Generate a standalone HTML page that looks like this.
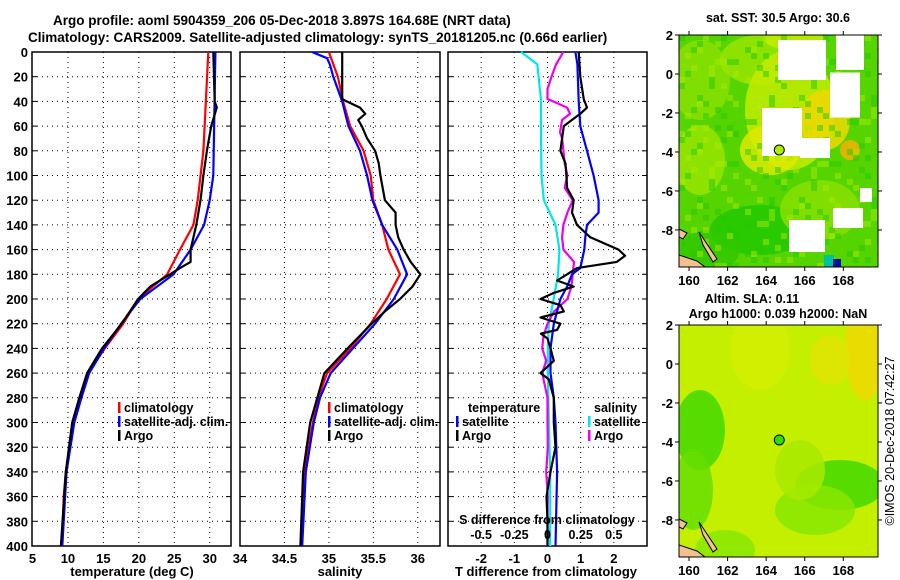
<!DOCTYPE html>
<html><head><meta charset="utf-8"><style>
body{margin:0;background:#fff;}
svg{display:block;font-family:"Liberation Sans",sans-serif;font-weight:bold;}
</style></head><body>
<svg id="fig" width="900" height="580" xmlns="http://www.w3.org/2000/svg">
<g font-size="13.5">
<text x="53" y="25">Argo profile: aoml 5904359_206 05-Dec-2018 3.897S 164.68E (NRT data)</text>
<text x="28" y="42">Climatology: CARS2009. Satellite-adjusted climatology: synTS_20181205.nc (0.66d earlier)</text>
</g>
<g id="panels"></g>
<g id="maps"></g>
</svg>
<script>
// ---------- data ----------
const depthTicks=[0,20,40,60,80,100,120,140,160,180,200,220,240,260,280,300,320,340,360,380,400];
const tTicks=[5,10,15,20,25,30];
const sTicks=[34,34.5,35,35.5,36];
const sTickLabels=["34","34.5","35","35.5","36"];
const dTicks=[-2,-1,0,1,2];
const dsTicks=[-0.5,-0.25,0,0.25,0.5];
const dsTickLabels=["-0.5","-0.25","0","0.25","0.5"];

const tClimD=[0,80,120,140,160,180,200,220,240,260,280,300,320,340,360,380,400];
const tClimV=[29.8,29.1,28.3,27.7,25.8,24.0,19.9,17.8,15.2,12.8,11.7,10.8,10.3,9.7,9.4,9.3,9.1];
const tSatD=[0,100,120,140,160,180,200,220,240,260,280,300,340,400];
const tSatV=[30.8,30.5,30.0,29.2,27.3,24.9,20.2,17.5,15.1,13.0,11.9,10.9,9.8,9.2];
const tArgoD=[0,40,45,60,80,100,120,140,160,170,175,180,190,200,220,240,260,280,300,340,400];
const tArgoV=[30.5,30.7,31.0,30.2,29.6,29.1,28.7,28.1,27.3,27.3,25.8,24.4,21.6,19.9,17.6,14.8,12.7,11.6,10.6,9.7,9.0];

const sClimD=[0,20,40,60,80,100,120,140,160,180,200,220,240,260,280,300,320,340,360,380,400];
const sClimV=[35.0,35.1,35.16,35.24,35.39,35.47,35.5,35.6,35.67,35.8,35.65,35.47,35.24,34.98,34.88,34.82,34.77,34.73,34.71,34.7,34.69];
const sSatD=[0,5,10,20,40,60,80,100,120,140,160,180,200,220,240,260,280,300,340,400];
const sSatV=[34.81,34.98,35.01,35.05,35.15,35.22,35.35,35.43,35.49,35.6,35.77,35.88,35.73,35.52,35.27,35.02,34.9,34.83,34.74,34.7];
const sArgoD=[0,38,40,45,50,55,60,70,80,90,100,120,130,140,150,160,170,180,190,200,210,220,240,260,300,340,400];
const sArgoV=[35.15,35.15,35.2,35.35,35.41,35.33,35.37,35.43,35.52,35.56,35.58,35.63,35.75,35.75,35.78,35.84,35.92,36.03,35.94,35.8,35.63,35.48,35.21,34.95,34.79,34.71,34.68];

const dtSatD=[0,10,40,60,80,100,120,130,140,150,160,175,180,190,200,220,240,260,280,300,340,400];
const dtSatV=[0.84,0.9,0.94,0.99,1.19,1.39,1.54,1.54,1.19,1.14,1.11,0.99,0.74,0.59,0.39,0.19,0.09,0.09,0.19,0.24,0.29,0.24];
const dtArgoD=[0,20,38,45,50,55,60,70,80,90,100,110,120,130,140,150,160,165,170,175,180,185,190,195,200,205,210,215,220,225,228,232,240,250,260,265,280,300,320,340,360,380,400];
const dtArgoV=[0.94,0.99,1.09,1.19,0.99,0.74,0.49,0.44,0.39,0.54,0.57,0.59,0.79,0.74,0.89,1.29,2.14,2.34,2.09,0.89,0.59,0.29,0.79,0.2,-0.21,0.39,0.49,-0.21,0.39,0.29,-0.2,0.0,0.09,0.19,-0.21,0.04,0.19,0.19,0.24,0.09,-0.03,0.0,0.0];
const dsSatD=[0,10,38,60,100,120,140,160,180,200,220,240,260,300,340,400];
const dsSatV=[-0.2,-0.077,-0.05,-0.05,-0.045,-0.028,0.06,0.09,0.08,0.047,0.01,0.002,0.002,0.01,0.02,0.02];
const dsArgoD=[0,10,20,30,38,45,50,55,65,70,80,90,100,110,120,130,140,150,160,170,180,190,200,210,220,230,240,250,260,280,300,320,340,360,380,400];
const dsArgoV=[0.12,0.065,0.03,0.0,0.0,0.148,0.17,0.11,0.094,0.11,0.12,0.13,0.15,0.13,0.19,0.15,0.12,0.11,0.12,0.2,0.19,0.18,0.15,0.05,0.0,-0.03,-0.04,-0.01,-0.04,0.0,0.0,0.002,-0.01,0.002,0.0,0.0];

const latTicks=[2,0,-2,-4,-6,-8];
const lonTicks=[160,162,164,166,168];
const argoLon=164.68, argoLat=-3.897;

// ---------- helpers ----------
const NS="http://www.w3.org/2000/svg";
function mk(parent,tag,attrs,text){const e=document.createElementNS(NS,tag);for(const k in attrs)e.setAttribute(k,attrs[k]);if(text!==undefined)e.textContent=text;parent.appendChild(e);return e;}
const top0=52,bot0=546;
const yD=d=>top0+(d/400)*(bot0-top0);
function lin(d0,d1,r0,r1){return v=>r0+(v-d0)/(d1-d0)*(r1-r0);}
const P1={x0:32,x1:231,sx:lin(5,33,32.5,231)};
const P2={x0:240,x1:440,sx:lin(34,36.25,240,440)};
const P3={x0:448,x1:647,sx:lin(-3,3,448,647)};
const dsx=v=>P3.sx(v*4);
const panels=document.getElementById('panels');

function frame(P,name,xt,xlab,xfn){
  const g=mk(panels,'g',{});
  
  
  depthTicks.forEach(d=>{if(d>0&&d<400){const l=mk(g,'line',{x1:P.x0,x2:P.x1,y1:yD(d),y2:yD(d),stroke:'#000','stroke-width':1,'stroke-dasharray':'1 4'});
    
    mk(g,'line',{x1:P.x0,x2:P.x0+5,y1:yD(d),y2:yD(d),stroke:'#000'});mk(g,'line',{x1:P.x1-5,x2:P.x1,y1:yD(d),y2:yD(d),stroke:'#000'});}});
  xt.forEach((v,i)=>{const x=xfn(v);
    if(x>P.x0+2&&x<P.x1-2){const l=mk(g,'line',{x1:x,x2:x,y1:top0,y2:bot0,stroke:'#000','stroke-dasharray':'1 4'});}
    const t=mk(g,'text',{x:x,y:563,'font-size':13,'text-anchor':'middle'},xlab[i]);
    });
  const r=mk(g,'rect',{x:P.x0,y:top0,width:P.x1-P.x0,height:bot0-top0,fill:'none',stroke:'#000','stroke-width':1.5});
  
  return g;
}
function series(g,D,V,fx,color,name,w){
  const pts=D.map((d,i)=>fx(V[i]).toFixed(1)+','+yD(d).toFixed(1)).join(' ');
  const p=mk(g,'polyline',{points:pts,fill:'none',stroke:color,'stroke-width':w||2.2,'stroke-linejoin':'round'});
  
}
function legendEntry(g,x,y,color,label,name){
  const e=mk(g,'g',{});
  
  mk(e,'rect',{x:x,y:y-10,width:2.5,height:11,fill:color});
  mk(e,'text',{x:x+6,y:y,'font-size':12.5},label);
}

const dl=mk(panels,'g',{'font-size':13,'text-anchor':'end'});

depthTicks.forEach(d=>mk(dl,'text',{x:28,y:yD(d)+5},String(d)));

const g1=frame(P1,'temperature-panel',tTicks,tTicks.map(String),P1.sx);
series(g1,tClimD,tClimV,P1.sx,'#ff0000','climatology-temp-line');
series(g1,tSatD,tSatV,P1.sx,'#0000ff','satellite-temp-line');
series(g1,tArgoD,tArgoV,P1.sx,'#000','argo-temp-line');
legendEntry(g1,118,412,'#ff0000','climatology','legend-climatology');
legendEntry(g1,118,426,'#0000ff','satellite-adj. clim.','legend-satellite');
legendEntry(g1,118,440,'#000','Argo','legend-argo');
const xt1=mk(panels,'text',{x:132,y:576,'font-size':13,'text-anchor':'middle'},'temperature (deg C)');


const g2=frame(P2,'salinity-panel',sTicks,sTickLabels,P2.sx);
series(g2,sClimD,sClimV,P2.sx,'#ff0000','climatology-salinity-line');
series(g2,sSatD,sSatV,P2.sx,'#0000ff','satellite-salinity-line');
series(g2,sArgoD,sArgoV,P2.sx,'#000','argo-salinity-line');
legendEntry(g2,328,412,'#ff0000','climatology','legend-climatology');
legendEntry(g2,328,426,'#0000ff','satellite-adj. clim.','legend-satellite');
legendEntry(g2,328,440,'#000','Argo','legend-argo');
const xt2=mk(panels,'text',{x:340,y:576,'font-size':13,'text-anchor':'middle'},'salinity');


const g3=frame(P3,'difference-panel',dTicks,dTicks.map(String),P3.sx);
series(g3,dsSatD,dsSatV,dsx,'#00e5ee','salinity-satellite-diff-line');
series(g3,dsArgoD,dsArgoV,dsx,'#ee00ee','salinity-argo-diff-line');
series(g3,dtSatD,dtSatV,P3.sx,'#0000ff','temperature-satellite-diff-line');
series(g3,dtArgoD,dtArgoV,P3.sx,'#000','temperature-argo-diff-line');
const lt=mk(g3,'text',{x:468,y:412,'font-size':12.5},'temperature');
const ls=mk(g3,'text',{x:594,y:412,'font-size':12.5},'salinity');
legendEntry(g3,456,426,'#0000ff','satellite','legend-t-satellite');
legendEntry(g3,456,440,'#000','Argo','legend-t-argo');
legendEntry(g3,588,426,'#00e5ee','satellite','legend-s-satellite');
legendEntry(g3,588,440,'#ee00ee','Argo','legend-s-argo');
const sat=mk(g3,'text',{x:547,y:524,'font-size':12.5,'text-anchor':'middle'},'S difference from climatology');

dsTicks.forEach((v,i)=>{const t=mk(g3,'text',{x:dsx(v),y:539,'font-size':12.5,'text-anchor':'middle'},dsTickLabels[i]);});
const xt3=mk(panels,'text',{x:546,y:576,'font-size':13,'text-anchor':'middle'},'T difference from climatology');


// ---------- maps ----------
const maps=document.getElementById('maps');
function drawMap(name,y0,kind){
  const X0=679,X1=878,Y1=y0+232,oy=y0-35;
  const lx=lin(159.48,169.8,X0,X1), ly=lin(2,-9.9,y0,Y1);
  const g=mk(maps,'g',{});
  
  const cid='clip'+kind;
  const cp=mk(mk(g,'defs',{}),'clipPath',{id:cid});mk(cp,'rect',{x:X0,y:y0,width:X1-X0,height:Y1-y0});
  const f=mk(g,'g',{'clip-path':'url(#'+cid+')'});
  let blobs;
  if(kind==='sst'){
    mk(f,'rect',{x:X0,y:y0,width:199,height:232,fill:'#55d400'});
    blobs=[[700,80,30,40,'#88e000'],[700,160,25,35,'#99e400'],[760,60,40,25,'#99e400'],[790,110,45,60,'#c4ec00'],[770,150,30,25,'#ddea00'],[825,120,25,30,'#eed800'],[850,150,10,10,'#f5b000'],[760,230,50,25,'#22c800'],[820,210,40,30,'#88e000'],[710,250,30,20,'#33c800'],[795,40,30,10,'#c4ec00']];
  } else {
    mk(f,'rect',{x:X0,y:y0,width:199,height:232,fill:'#c4f000'});
    blobs=[[700,140,25,40,'#44d800'],[693,200,20,40,'#66de00'],[840,195,45,25,'#44d800'],[815,220,40,25,'#88e600'],[865,60,20,50,'#f0d800'],[830,70,20,25,'#e0e400'],[800,180,25,30,'#a8ea00'],[725,260,30,20,'#88e600'],[760,60,30,40,'#d4ee00']];
  }
  blobs.forEach(b=>mk(f,'ellipse',{cx:b[0],cy:b[1]+oy,rx:b[2],ry:b[3],fill:b[4],opacity:0.85}));
  if(kind==='sst'){
    // mottled pixel texture (deterministic)
    for(let i=0;i<34;i++)for(let j=0;j<39;j++){const h=(i*73+j*151+i*j*7)%17;
      if(h<4) mk(f,'rect',{x:X0+i*6,y:y0+j*6,width:6,height:6,fill:h<2?'#22c800':'#aaea00',opacity:0.5});}
    const whites=[[782,132,40,48],[802,60,48,40],[850,45,28,50],[845,95,30,45],[815,148,30,20],[807,236,36,32],[866,195,12,14],[848,218,30,20]];
    whites.forEach(w=>mk(f,'rect',{x:w[0]-w[2]/2,y:w[1]-w[3]/2,width:w[2],height:w[3],fill:'#fff'}));
    mk(f,'rect',{x:824,y:255,width:10,height:12,fill:'#00c0a0'});mk(f,'rect',{x:833,y:259,width:8,height:8,fill:'#0010a0'});
  }
  mk(f,'path',{d:`M${X0} ${Y1-12} L${X0+18} ${Y1-6} L${X0+26} ${Y1} L${X0} ${Y1} Z M${X0+20} ${Y1-35} L${X0+30} ${Y1-20} L${X0+38} ${Y1-8} L${X0+34} ${Y1-5} L${X0+24} ${Y1-22} Z M${X0} ${Y1-38} L${X0+8} ${Y1-34} L${X0+4} ${Y1-28} L${X0} ${Y1-30} Z`,fill:'#f5c090',stroke:'#000','stroke-width':1});
  const fr=mk(g,'rect',{x:X0,y:y0,width:X1-X0,height:Y1-y0,fill:'none',stroke:'#000','stroke-width':1});
  
  latTicks.forEach(v=>{const t=mk(g,'text',{x:673,y:ly(v)+5,'font-size':13,'text-anchor':'end'},String(v));
    mk(g,'line',{x1:X0-4,x2:X0,y1:ly(v),y2:ly(v),stroke:'#000'});mk(g,'line',{x1:X1,x2:X1+4,y1:ly(v),y2:ly(v),stroke:'#000'});});
  lonTicks.forEach(v=>{const t=mk(g,'text',{x:lx(v),y:Y1+18,'font-size':13,'text-anchor':'middle'},String(v));
    mk(g,'line',{x1:lx(v),x2:lx(v),y1:y0-4,y2:y0,stroke:'#000'});mk(g,'line',{x1:lx(v),x2:lx(v),y1:Y1,y2:Y1+4,stroke:'#000'});});
  const c=mk(g,'circle',{cx:lx(argoLon),cy:ly(argoLat),r:5,fill:kind==='sst'?'#aaee00':'#33dd00',stroke:'#000','stroke-width':1});
  
}
drawMap('sst-map',35,'sst');
drawMap('sla-map',325,'sla');
[['sst-map-title',778,22,'sat. SST: 30.5 Argo: 30.6'],['sla-map-title',752,303,'Altim. SLA: 0.11'],['sla-map-subtitle',778,318,'Argo h1000: 0.039 h2000: NaN']].forEach(a=>{
  const t=mk(maps,'text',{x:a[1],y:a[2],'font-size':12.5,'text-anchor':'middle'},a[3]);
  });
const cr=mk(maps,'text',{x:0,y:0,'font-size':12.5,'font-weight':'normal','text-anchor':'middle',transform:'translate(894,441) rotate(-90)'},'©IMOS 20-Dec-2018 07:42:27');

</script>
</body></html>
